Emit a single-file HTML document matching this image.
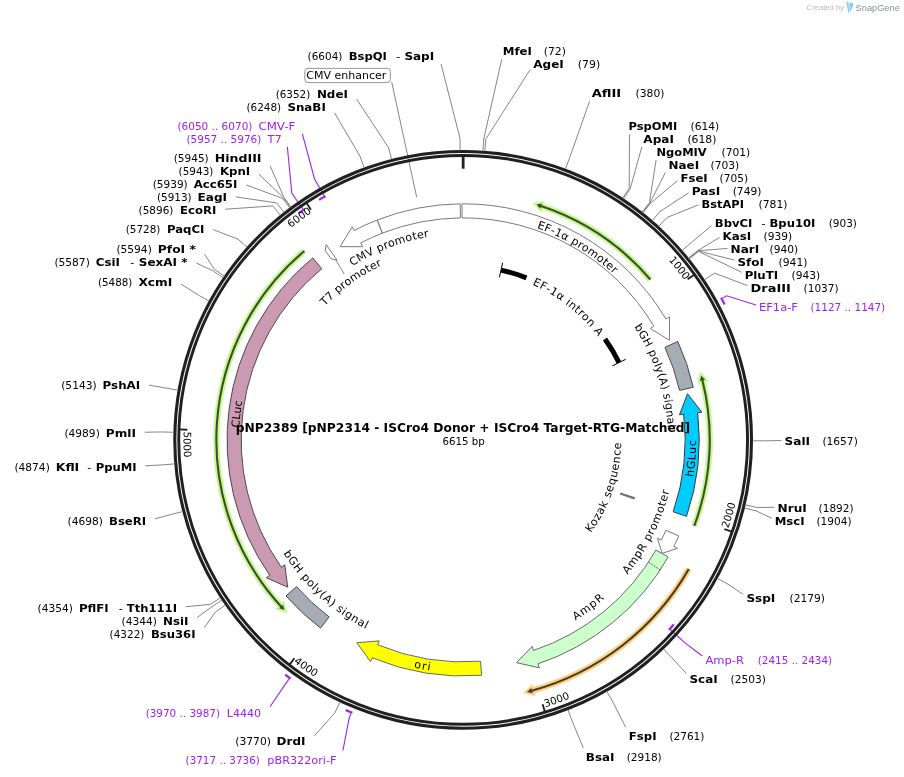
<!DOCTYPE html>
<html><head><meta charset="utf-8"><title>pNP2389 map</title><style>html,body{margin:0;padding:0;background:#fff}svg{display:block;will-change:transform}</style></head><body>
<svg width="904" height="777" viewBox="0 0 904 777">
<rect width="904" height="777" fill="#fff"/>
<defs><path id="p1" d="M422.9,169.88 A273,273 0 0 1 717.12,540.05"/><path id="p2" d="M191.84,470.19 A273,273 0 0 1 572.57,189.79"/><path id="p3" d="M531.77,710.95 A279.6,279.6 0 0 0 663.57,244.95"/><path id="p4" d="M282.62,653.41 A279.6,279.6 0 0 0 738.32,489.48"/><path id="p5" d="M184.46,417.3 A279.6,279.6 0 0 0 582.92,692.55"/><path id="p6" d="M319.39,200.09 A279.6,279.6 0 0 0 327.35,684.31"/><path id="p7" d="M259.66,407.85 A206,206 0 0 1 592.65,279.69"/><path id="p8" d="M271.52,458.18 A192.5,192.5 0 0 1 543.13,264.8"/><path id="p9" d="M353.43,244.38 A224.2,224.2 0 0 1 687.33,442.64"/><path id="p10" d="M400.29,281.95 A170,170 0 0 1 631.37,464.44"/><path id="p11" d="M504.37,239.09 A205,205 0 0 1 616.45,576"/><path id="p12" d="M562.91,650.46 A233,233 0 0 0 595.62,248.22"/><path id="p13" d="M494.52,594.76 A158,158 0 0 0 581.58,335.31"/><path id="p14" d="M475.75,652.03 A212.5,212.5 0 0 0 640.56,322.92"/><path id="p15" d="M379.44,635.22 A212.5,212.5 0 0 0 674.16,414.74"/><path id="p16" d="M243.92,518.83 A233,233 0 0 0 641.11,590.29"/><path id="p17" d="M255.69,393.91 A212.5,212.5 0 0 0 527.05,642.56"/><path id="p18" d="M329.63,620.01 A224.2,224.2 0 0 1 373.93,234.22"/></defs>
<path d="M377.26,219.98 A236.1,236.1 0 0 1 460.23,203.82 L460.41,217.92 A222,222 0 0 0 382.39,233.11 Z" fill="#fff" stroke="#7a7a7a" stroke-width="1" stroke-linejoin="miter"/>
<path d="M377.05,220.06 A236.1,236.1 0 0 0 354.18,230.45 L352.24,226.73 L340.12,246.7 L362.63,246.69 L360.69,242.96 A222,222 0 0 1 382.19,233.19 Z" fill="#fff" stroke="#7a7a7a" stroke-width="1" stroke-linejoin="miter"/>
<path d="M462.03,203.8 A236.1,236.1 0 0 1 665.98,319.06 L669.59,316.91 L669.4,340.27 L650.26,328.43 L653.87,326.28 A222,222 0 0 0 462.1,217.9 Z" fill="#fff" stroke="#7a7a7a" stroke-width="1" stroke-linejoin="miter"/>
<path d="M326.13,244.56 L325.28,250.71 L331.23,258.87 L337.1,260.2 L331.62,252.38 Z" fill="#fff" stroke="#7a7a7a" stroke-width="1" stroke-linejoin="miter"/>
<path d="M677.75,341.47 A236.1,236.1 0 0 1 693.31,387.25 L679.56,390.4 A222,222 0 0 0 664.94,347.35 Z" fill="#a6acb6" stroke="#4a4a4a" stroke-width="1" stroke-linejoin="miter"/>
<path d="M686.52,516.37 A236.1,236.1 0 0 0 697.67,412.64 L701.84,412.16 L687.5,393.72 L679.49,414.75 L683.67,414.27 A222,222 0 0 1 673.18,511.8 Z" fill="#00ccff" stroke="#3a3a3a" stroke-width="1" stroke-linejoin="miter"/>
<path d="M678.82,535.98 A236.1,236.1 0 0 1 673.81,546.51 L677.56,548.41 L662.16,553.29 L657.48,538.25 L661.23,540.15 A222,222 0 0 0 665.94,530.24 Z" fill="#fff" stroke="#7a7a7a" stroke-width="1" stroke-linejoin="miter"/>
<path d="M668.18,556.98 A236.1,236.1 0 0 1 537.96,663.84 L539.29,667.82 L516.5,662.65 L532.16,646.48 L533.49,650.46 A222,222 0 0 0 655.93,549.99 Z" fill="#ccffcc" stroke="#6a6a6a" stroke-width="1" stroke-linejoin="miter"/>
<path d="M660.19,569.97 L648.43,562.2" stroke="#333" stroke-width="1" stroke-dasharray="1.5,1.5" fill="none"/>
<path d="M481.63,675.28 A236.1,236.1 0 0 1 372.15,657.76 L370.53,661.63 L356.77,642.75 L379.2,640.87 L377.58,644.75 A222,222 0 0 0 480.53,661.22 Z" fill="#ffff00" stroke="#6a6a6a" stroke-width="1" stroke-linejoin="miter"/>
<path d="M320.59,628.1 A236.1,236.1 0 0 1 285.98,595.96 L296.56,586.64 A222,222 0 0 0 329.11,616.86 Z" fill="#a6acb6" stroke="#4a4a4a" stroke-width="1" stroke-linejoin="miter"/>
<path d="M312.77,257.89 A236.1,236.1 0 0 0 269.77,575.36 L266.33,577.77 L287.72,587.17 L284.76,564.86 L281.32,567.27 A222,222 0 0 1 321.75,268.76 Z" fill="#cc99b3" stroke="#4a4a4a" stroke-width="1" stroke-linejoin="miter"/>
<path d="M501.02,270.07 A174,174 0 0 1 526.45,277.82" fill="none" stroke="#000" stroke-width="5" />
<path d="M604.96,339.07 A174,174 0 0 1 619.03,362.59" fill="none" stroke="#000" stroke-width="5" />
<path d="M499.39,277.39 L502.65,262.75" stroke="#000" stroke-width="1" fill="none"/>
<path d="M612.31,365.92 L625.75,359.25" stroke="#000" stroke-width="1" fill="none"/>
<path d="M620.16,493.48 L634.73,498.46" stroke="#707070" stroke-width="2.3" fill="none"/>
<path d="M650.35,279.53 A246.5,246.5 0 0 0 540.29,205.78" fill="none" stroke="#c2fa8e" stroke-width="6.2"/>
<path d="M542.09,203.53 L536.48,204.56 L540.38,208.66 Z" fill="#c2fa8e" stroke="#c2fa8e" stroke-width="4" stroke-linejoin="miter"/>
<path d="M650.35,279.53 A246.5,246.5 0 0 0 540.29,205.78" fill="none" stroke="#3f4d2b" stroke-width="2.1"/>
<path d="M542.09,203.53 L536.48,204.56 L540.38,208.66 Z" fill="#3f4d2b"/>
<path d="M694.25,525.95 A246.6,246.6 0 0 0 702.23,379.46" fill="none" stroke="#c2fa8e" stroke-width="6.2"/>
<path d="M705.09,379.78 L701.22,375.59 L699.85,381.09 Z" fill="#c2fa8e" stroke="#c2fa8e" stroke-width="4" stroke-linejoin="miter"/>
<path d="M694.25,525.95 A246.6,246.6 0 0 0 702.23,379.46" fill="none" stroke="#3f4d2b" stroke-width="2.1"/>
<path d="M705.09,379.78 L701.22,375.59 L699.85,381.09 Z" fill="#3f4d2b"/>
<path d="M688.81,569.04 A260,260 0 0 1 530.94,690.91" fill="none" stroke="#fbd084" stroke-width="6.2"/>
<path d="M532.62,693.25 L527.07,691.92 L531.19,688.04 Z" fill="#fbd084" stroke="#fbd084" stroke-width="4" stroke-linejoin="miter"/>
<path d="M688.81,569.04 A260,260 0 0 1 530.94,690.91" fill="none" stroke="#4a3a1c" stroke-width="2.1"/>
<path d="M532.62,693.25 L527.07,691.92 L531.19,688.04 Z" fill="#4a3a1c"/>
<path d="M304.33,250.99 A246.8,246.8 0 0 0 281.71,607.2" fill="none" stroke="#c2fa8e" stroke-width="6.2"/>
<path d="M279.04,608.28 L284.44,610.12 L283.02,604.64 Z" fill="#c2fa8e" stroke="#c2fa8e" stroke-width="4" stroke-linejoin="miter"/>
<path d="M304.33,250.99 A246.8,246.8 0 0 0 281.71,607.2" fill="none" stroke="#3f4d2b" stroke-width="2.1"/>
<path d="M279.04,608.28 L284.44,610.12 L283.02,604.64 Z" fill="#3f4d2b"/>
<path d="M721.07,297.75 A294.5,294.5 0 0 1 724.65,304.45" fill="none" stroke="#a020f0" stroke-width="2.2"/>
<path d="M722.43,298.14 L726.64,295.84 L755.9,305.04" fill="none" stroke="#a020f0" stroke-width="1.1"/>
<text font-family="DejaVu Sans, Liberation Sans, sans-serif" font-size="11" x="759" y="310.8" fill="#a020f0" textLength="39" lengthAdjust="spacingAndGlyphs">EF1a-F</text>
<text font-family="DejaVu Sans, Liberation Sans, sans-serif" font-size="11" x="810.5" y="310.8" fill="#a020f0" textLength="74.7" lengthAdjust="spacingAndGlyphs">(1127 .. 1147)</text>
<path d="M673.75,624.42 A280,280 0 0 1 669.03,629.67" fill="none" stroke="#a020f0" stroke-width="2.2"/>
<path d="M668.97,628.26 L684.69,642.64 L702.3,656.05" fill="none" stroke="#a020f0" stroke-width="1.1"/>
<text font-family="DejaVu Sans, Liberation Sans, sans-serif" font-size="11" x="705.4" y="663.6" fill="#a020f0" textLength="38.6" lengthAdjust="spacingAndGlyphs">Amp-R</text>
<text font-family="DejaVu Sans, Liberation Sans, sans-serif" font-size="11" x="757.8" y="663.6" fill="#a020f0" textLength="74.3" lengthAdjust="spacingAndGlyphs">(2415 .. 2434)</text>
<path d="M319.14,199.77 A280,280 0 0 1 325.46,196.09" fill="none" stroke="#a020f0" stroke-width="2.2"/>
<path d="M325.09,197.46 L314.55,178.95 L302.39,133.8" fill="none" stroke="#a020f0" stroke-width="1.1"/>
<text font-family="DejaVu Sans, Liberation Sans, sans-serif" font-size="11" x="177.5" y="129.8" fill="#a020f0" textLength="74.9" lengthAdjust="spacingAndGlyphs">(6050 .. 6070)</text>
<text font-family="DejaVu Sans, Liberation Sans, sans-serif" font-size="11" x="258.4" y="129.8" fill="#a020f0" textLength="36.9" lengthAdjust="spacingAndGlyphs">CMV-F</text>
<path d="M298.51,213.42 A280,280 0 0 1 304.27,209.34" fill="none" stroke="#a020f0" stroke-width="2.2"/>
<path d="M304.02,210.73 L291.87,193.24 L287.33,146.8" fill="none" stroke="#a020f0" stroke-width="1.1"/>
<text font-family="DejaVu Sans, Liberation Sans, sans-serif" font-size="11" x="186.5" y="142.8" fill="#a020f0" textLength="74.8" lengthAdjust="spacingAndGlyphs">(5957 .. 5976)</text>
<text font-family="DejaVu Sans, Liberation Sans, sans-serif" font-size="11" x="267.5" y="142.8" fill="#a020f0" textLength="14.2" lengthAdjust="spacingAndGlyphs">T7</text>
<path d="M290.63,678.58 A294.5,294.5 0 0 1 285.2,674.56" fill="none" stroke="#a020f0" stroke-width="2.2"/>
<path d="M289.23,678.8 L286.41,682.68 L270,706.74" fill="none" stroke="#a020f0" stroke-width="1.1"/>
<text font-family="DejaVu Sans, Liberation Sans, sans-serif" font-size="11" x="145.7" y="717.1" fill="#a020f0" textLength="74.3" lengthAdjust="spacingAndGlyphs">(3970 .. 3987)</text>
<text font-family="DejaVu Sans, Liberation Sans, sans-serif" font-size="11" x="226.7" y="717.1" fill="#a020f0" textLength="34.5" lengthAdjust="spacingAndGlyphs">L4440</text>
<path d="M352.39,712.78 A294.5,294.5 0 0 1 345.65,709.94" fill="none" stroke="#a020f0" stroke-width="2.2"/>
<path d="M351.09,713.33 L349.27,717.77 L342.94,750.5" fill="none" stroke="#a020f0" stroke-width="1.1"/>
<text font-family="DejaVu Sans, Liberation Sans, sans-serif" font-size="11" x="185.6" y="763.5" fill="#a020f0" textLength="74.2" lengthAdjust="spacingAndGlyphs">(3717 .. 3736)</text>
<text font-family="DejaVu Sans, Liberation Sans, sans-serif" font-size="11" x="267.3" y="763.5" fill="#a020f0" textLength="69.2" lengthAdjust="spacingAndGlyphs">pBR322ori-F</text>
<path d="M391.7,82 L416.7,197.2" stroke="#858585" fill="none"/>
<circle cx="463.15" cy="439.9" r="288.35" fill="none" stroke="#202020" stroke-width="3.1"/>
<circle cx="463.15" cy="439.9" r="284.4" fill="none" stroke="#202020" stroke-width="2.9"/>
<path d="M463.15,155.9 L463.15,168.7" stroke="#202020" stroke-width="2.8"/>
<path d="M694.13,274.66 L687.63,279.32" stroke="#202020" stroke-width="1.8"/>
<path d="M731.93,531.63 L724.36,529.04" stroke="#202020" stroke-width="1.8"/>
<path d="M544.93,711.87 L542.62,704.21" stroke="#202020" stroke-width="1.8"/>
<path d="M289.53,664.65 L294.42,658.32" stroke="#202020" stroke-width="1.8"/>
<path d="M179.34,429.45 L187.34,429.74" stroke="#202020" stroke-width="1.8"/>
<path d="M306.53,202.99 L310.94,209.67" stroke="#202020" stroke-width="1.8"/>
<text font-family="DejaVu Sans, Liberation Sans, sans-serif" font-size="10.3" fill="#000" text-anchor="middle"><textPath href="#p1" startOffset="50%">1000</textPath></text>
<text font-family="DejaVu Sans, Liberation Sans, sans-serif" font-size="10.3" fill="#000" text-anchor="middle"><textPath href="#p2" startOffset="50%">6000</textPath></text>
<text font-family="DejaVu Sans, Liberation Sans, sans-serif" font-size="10.3" fill="#000" text-anchor="middle"><textPath href="#p3" startOffset="50%">2000</textPath></text>
<text font-family="DejaVu Sans, Liberation Sans, sans-serif" font-size="10.3" fill="#000" text-anchor="middle"><textPath href="#p4" startOffset="50%">3000</textPath></text>
<text font-family="DejaVu Sans, Liberation Sans, sans-serif" font-size="10.3" fill="#000" text-anchor="middle"><textPath href="#p5" startOffset="50%">4000</textPath></text>
<text font-family="DejaVu Sans, Liberation Sans, sans-serif" font-size="10.3" fill="#000" text-anchor="middle"><textPath href="#p6" startOffset="50%">5000</textPath></text>
<text font-family="DejaVu Sans, Liberation Sans, sans-serif" font-size="11" fill="#000" text-anchor="middle"><textPath href="#p7" startOffset="50%" textLength="82.82">CMV promoter</textPath></text>
<text font-family="DejaVu Sans, Liberation Sans, sans-serif" font-size="11" fill="#000" text-anchor="middle"><textPath href="#p8" startOffset="50%" textLength="70.75">T7 promoter</textPath></text>
<text font-family="DejaVu Sans, Liberation Sans, sans-serif" font-size="11" fill="#000" text-anchor="middle"><textPath href="#p9" startOffset="50%" textLength="90.42">EF-1α promoter</textPath></text>
<text font-family="DejaVu Sans, Liberation Sans, sans-serif" font-size="11" fill="#000" text-anchor="middle"><textPath href="#p10" startOffset="50%" textLength="85.02">EF-1α intron A</textPath></text>
<text font-family="DejaVu Sans, Liberation Sans, sans-serif" font-size="11" fill="#000" text-anchor="middle"><textPath href="#p11" startOffset="50%" textLength="107.64">bGH poly(A) signal</textPath></text>
<text font-family="DejaVu Sans, Liberation Sans, sans-serif" font-size="11" fill="#000" text-anchor="middle"><textPath href="#p12" startOffset="50%" textLength="36.99">hGLuc</textPath></text>
<text font-family="DejaVu Sans, Liberation Sans, sans-serif" font-size="11" fill="#000" text-anchor="middle"><textPath href="#p13" startOffset="50%" textLength="96.89">Kozak sequence</textPath></text>
<text font-family="DejaVu Sans, Liberation Sans, sans-serif" font-size="11" fill="#000" text-anchor="middle"><textPath href="#p14" startOffset="50%" textLength="94.66">AmpR promoter</textPath></text>
<text font-family="DejaVu Sans, Liberation Sans, sans-serif" font-size="11" fill="#000" text-anchor="middle"><textPath href="#p15" startOffset="50%" textLength="36.69">AmpR</textPath></text>
<text font-family="DejaVu Sans, Liberation Sans, sans-serif" font-size="11" fill="#000" text-anchor="middle"><textPath href="#p16" startOffset="50%" textLength="16.65">ori</textPath></text>
<text font-family="DejaVu Sans, Liberation Sans, sans-serif" font-size="11" fill="#000" text-anchor="middle"><textPath href="#p17" startOffset="50%" textLength="113.21">bGH poly(A) signal</textPath></text>
<text font-family="DejaVu Sans, Liberation Sans, sans-serif" font-size="11" fill="#000" text-anchor="middle"><textPath href="#p18" startOffset="50%" textLength="27.14">CLuc</textPath></text>
<text font-family="DejaVu Sans, Liberation Sans, sans-serif" font-size="12.4" font-weight="bold" x="235.8" y="431.6" textLength="454.4" lengthAdjust="spacingAndGlyphs">pNP2389 [pNP2314 - ISCro4 Donor + ISCro4 Target-RTG-Matched]</text>
<text font-family="DejaVu Sans, Liberation Sans, sans-serif" font-size="11" x="442.5" y="444.7" textLength="42.3" lengthAdjust="spacingAndGlyphs">6615 bp</text>
<path d="M482.93,151.08 L483.76,139.01 L501.78,59.1" fill="none" stroke="#858585" stroke-width="1"/>
<text font-family="DejaVu Sans, Liberation Sans, sans-serif" font-size="11" x="502.8" y="55.1" fill="#000" font-weight="bold" textLength="29.1" lengthAdjust="spacingAndGlyphs">MfeI</text>
<text font-family="DejaVu Sans, Liberation Sans, sans-serif" font-size="11" x="543.7" y="55.1" fill="#000" textLength="22.2" lengthAdjust="spacingAndGlyphs">(72)</text>
<path d="M484.85,151.21 L485.76,139.15 L530.1,69.76" fill="none" stroke="#858585" stroke-width="1"/>
<text font-family="DejaVu Sans, Liberation Sans, sans-serif" font-size="11" x="533.2" y="68" fill="#000" font-weight="bold" textLength="30.6" lengthAdjust="spacingAndGlyphs">AgeI</text>
<text font-family="DejaVu Sans, Liberation Sans, sans-serif" font-size="11" x="577.8" y="68" fill="#000" textLength="22.4" lengthAdjust="spacingAndGlyphs">(79)</text>
<path d="M565.39,169.05 L569.66,157.73 L589.6,101.2" fill="none" stroke="#858585" stroke-width="1"/>
<text font-family="DejaVu Sans, Liberation Sans, sans-serif" font-size="11" x="591.7" y="97.2" fill="#000" font-weight="bold" textLength="29.5" lengthAdjust="spacingAndGlyphs">AflII</text>
<text font-family="DejaVu Sans, Liberation Sans, sans-serif" font-size="11" x="635.6" y="97.2" fill="#000" textLength="28.9" lengthAdjust="spacingAndGlyphs">(380)</text>
<path d="M622.58,198.25 L629.24,188.15 L629.46,134.3" fill="none" stroke="#858585" stroke-width="1"/>
<text font-family="DejaVu Sans, Liberation Sans, sans-serif" font-size="11" x="628.6" y="130.3" fill="#000" font-weight="bold" textLength="48.6" lengthAdjust="spacingAndGlyphs">PspOMI</text>
<text font-family="DejaVu Sans, Liberation Sans, sans-serif" font-size="11" x="690.6" y="130.3" fill="#000" textLength="28.7" lengthAdjust="spacingAndGlyphs">(614)</text>
<path d="M623.49,198.86 L630.2,188.79 L641.84,146.9" fill="none" stroke="#858585" stroke-width="1"/>
<text font-family="DejaVu Sans, Liberation Sans, sans-serif" font-size="11" x="643.3" y="142.9" fill="#000" font-weight="bold" textLength="30.6" lengthAdjust="spacingAndGlyphs">ApaI</text>
<text font-family="DejaVu Sans, Liberation Sans, sans-serif" font-size="11" x="687.4" y="142.9" fill="#000" textLength="29.1" lengthAdjust="spacingAndGlyphs">(618)</text>
<path d="M641.98,212.24 L649.45,202.72 L656.08,159.9" fill="none" stroke="#858585" stroke-width="1"/>
<text font-family="DejaVu Sans, Liberation Sans, sans-serif" font-size="11" x="656.5" y="155.9" fill="#000" font-weight="bold" textLength="50.2" lengthAdjust="spacingAndGlyphs">NgoMIV</text>
<text font-family="DejaVu Sans, Liberation Sans, sans-serif" font-size="11" x="721.5" y="155.9" fill="#000" textLength="28.7" lengthAdjust="spacingAndGlyphs">(701)</text>
<path d="M642.41,212.58 L649.9,203.08 L665.4,172.41" fill="none" stroke="#858585" stroke-width="1"/>
<text font-family="DejaVu Sans, Liberation Sans, sans-serif" font-size="11" x="668.5" y="169" fill="#000" font-weight="bold" textLength="30.6" lengthAdjust="spacingAndGlyphs">NaeI</text>
<text font-family="DejaVu Sans, Liberation Sans, sans-serif" font-size="11" x="710.5" y="169" fill="#000" textLength="28.7" lengthAdjust="spacingAndGlyphs">(703)</text>
<path d="M642.84,212.92 L650.35,203.43 L677.4,180.67" fill="none" stroke="#858585" stroke-width="1"/>
<text font-family="DejaVu Sans, Liberation Sans, sans-serif" font-size="11" x="680.5" y="181.8" fill="#000" font-weight="bold" textLength="27.2" lengthAdjust="spacingAndGlyphs">FseI</text>
<text font-family="DejaVu Sans, Liberation Sans, sans-serif" font-size="11" x="719.6" y="181.8" fill="#000" textLength="28.5" lengthAdjust="spacingAndGlyphs">(705)</text>
<path d="M652.17,220.62 L660.07,211.46 L688.6,192.81" fill="none" stroke="#858585" stroke-width="1"/>
<text font-family="DejaVu Sans, Liberation Sans, sans-serif" font-size="11" x="691.7" y="194.7" fill="#000" font-weight="bold" textLength="28.5" lengthAdjust="spacingAndGlyphs">PasI</text>
<text font-family="DejaVu Sans, Liberation Sans, sans-serif" font-size="11" x="732.7" y="194.7" fill="#000" textLength="28.7" lengthAdjust="spacingAndGlyphs">(749)</text>
<path d="M658.75,226.47 L666.92,217.55 L698.5,204.81" fill="none" stroke="#858585" stroke-width="1"/>
<text font-family="DejaVu Sans, Liberation Sans, sans-serif" font-size="11" x="701.6" y="207.7" fill="#000" font-weight="bold" textLength="42.3" lengthAdjust="spacingAndGlyphs">BstAPI</text>
<text font-family="DejaVu Sans, Liberation Sans, sans-serif" font-size="11" x="758.5" y="207.7" fill="#000" textLength="29" lengthAdjust="spacingAndGlyphs">(781)</text>
<path d="M682.11,250.52 L691.26,242.6 L711.7,225.54" fill="none" stroke="#858585" stroke-width="1"/>
<text font-family="DejaVu Sans, Liberation Sans, sans-serif" font-size="11" x="714.8" y="226.7" fill="#000" font-weight="bold" textLength="37.6" lengthAdjust="spacingAndGlyphs">BbvCI</text>
<text font-family="DejaVu Sans, Liberation Sans, sans-serif" font-size="11" x="761.4" y="226.7" fill="#000">-</text>
<text font-family="DejaVu Sans, Liberation Sans, sans-serif" font-size="11" x="769.5" y="226.7" fill="#000" font-weight="bold" textLength="45.9" lengthAdjust="spacingAndGlyphs">Bpu10I</text>
<text font-family="DejaVu Sans, Liberation Sans, sans-serif" font-size="11" x="828.7" y="226.7" fill="#000" textLength="28.3" lengthAdjust="spacingAndGlyphs">(903)</text>
<path d="M688.46,258.11 L697.87,250.51 L719.5,237.51" fill="none" stroke="#858585" stroke-width="1"/>
<text font-family="DejaVu Sans, Liberation Sans, sans-serif" font-size="11" x="722.6" y="239.6" fill="#000" font-weight="bold" textLength="28.7" lengthAdjust="spacingAndGlyphs">KasI</text>
<text font-family="DejaVu Sans, Liberation Sans, sans-serif" font-size="11" x="763.6" y="239.6" fill="#000" textLength="28.7" lengthAdjust="spacingAndGlyphs">(939)</text>
<path d="M688.63,258.33 L698.05,250.74 L727.5,248.42" fill="none" stroke="#858585" stroke-width="1"/>
<text font-family="DejaVu Sans, Liberation Sans, sans-serif" font-size="11" x="730.6" y="252.6" fill="#000" font-weight="bold" textLength="28.7" lengthAdjust="spacingAndGlyphs">NarI</text>
<text font-family="DejaVu Sans, Liberation Sans, sans-serif" font-size="11" x="769.5" y="252.6" fill="#000" textLength="28.7" lengthAdjust="spacingAndGlyphs">(940)</text>
<path d="M688.8,258.54 L698.23,250.96 L734.3,260.09" fill="none" stroke="#858585" stroke-width="1"/>
<text font-family="DejaVu Sans, Liberation Sans, sans-serif" font-size="11" x="737.4" y="265.6" fill="#000" font-weight="bold" textLength="26.5" lengthAdjust="spacingAndGlyphs">SfoI</text>
<text font-family="DejaVu Sans, Liberation Sans, sans-serif" font-size="11" x="778.5" y="265.6" fill="#000" textLength="29" lengthAdjust="spacingAndGlyphs">(941)</text>
<path d="M689.15,258.97 L698.59,251.41 L741.6,272.26" fill="none" stroke="#858585" stroke-width="1"/>
<text font-family="DejaVu Sans, Liberation Sans, sans-serif" font-size="11" x="744.7" y="278.7" fill="#000" font-weight="bold" textLength="33.5" lengthAdjust="spacingAndGlyphs">PluTI</text>
<text font-family="DejaVu Sans, Liberation Sans, sans-serif" font-size="11" x="791.6" y="278.7" fill="#000" textLength="28.7" lengthAdjust="spacingAndGlyphs">(943)</text>
<path d="M704.38,279.84 L714.46,273.15 L747.5,285.59" fill="none" stroke="#858585" stroke-width="1"/>
<text font-family="DejaVu Sans, Liberation Sans, sans-serif" font-size="11" x="750.6" y="291.6" fill="#000" font-weight="bold" textLength="40.3" lengthAdjust="spacingAndGlyphs">DraIII</text>
<text font-family="DejaVu Sans, Liberation Sans, sans-serif" font-size="11" x="803.6" y="291.6" fill="#000" textLength="35" lengthAdjust="spacingAndGlyphs">(1037)</text>
<path d="M752.65,440.79 L764.75,440.83 L781.5,440.56" fill="none" stroke="#858585" stroke-width="1"/>
<text font-family="DejaVu Sans, Liberation Sans, sans-serif" font-size="11" x="784.6" y="445" fill="#000" font-weight="bold" textLength="25.5" lengthAdjust="spacingAndGlyphs">SalI</text>
<text font-family="DejaVu Sans, Liberation Sans, sans-serif" font-size="11" x="822.4" y="445" fill="#000" textLength="35.4" lengthAdjust="spacingAndGlyphs">(1657)</text>
<path d="M745.27,504.86 L757.06,507.57 L774.5,507.27" fill="none" stroke="#858585" stroke-width="1"/>
<text font-family="DejaVu Sans, Liberation Sans, sans-serif" font-size="11" x="777.6" y="511.7" fill="#000" font-weight="bold" textLength="29.3" lengthAdjust="spacingAndGlyphs">NruI</text>
<text font-family="DejaVu Sans, Liberation Sans, sans-serif" font-size="11" x="818.6" y="511.7" fill="#000" textLength="35" lengthAdjust="spacingAndGlyphs">(1892)</text>
<path d="M744.51,508.07 L756.27,510.92 L771.6,518.12" fill="none" stroke="#858585" stroke-width="1"/>
<text font-family="DejaVu Sans, Liberation Sans, sans-serif" font-size="11" x="774.7" y="524.5" fill="#000" font-weight="bold" textLength="29.9" lengthAdjust="spacingAndGlyphs">MscI</text>
<text font-family="DejaVu Sans, Liberation Sans, sans-serif" font-size="11" x="816.5" y="524.5" fill="#000" textLength="35" lengthAdjust="spacingAndGlyphs">(1904)</text>
<path d="M717.36,578.41 L727.99,584.2 L743.3,594.51" fill="none" stroke="#858585" stroke-width="1"/>
<text font-family="DejaVu Sans, Liberation Sans, sans-serif" font-size="11" x="746.4" y="601.7" fill="#000" font-weight="bold" textLength="28.9" lengthAdjust="spacingAndGlyphs">SspI</text>
<text font-family="DejaVu Sans, Liberation Sans, sans-serif" font-size="11" x="789.5" y="601.7" fill="#000" textLength="35.4" lengthAdjust="spacingAndGlyphs">(2179)</text>
<path d="M663.46,648.91 L671.83,657.65 L686.4,673.62" fill="none" stroke="#858585" stroke-width="1"/>
<text font-family="DejaVu Sans, Liberation Sans, sans-serif" font-size="11" x="689.5" y="682.5" fill="#000" font-weight="bold" textLength="28.2" lengthAdjust="spacingAndGlyphs">ScaI</text>
<text font-family="DejaVu Sans, Liberation Sans, sans-serif" font-size="11" x="730.6" y="682.5" fill="#000" textLength="35.3" lengthAdjust="spacingAndGlyphs">(2503)</text>
<path d="M606.77,691.26 L612.77,701.77 L625.7,727.38" fill="none" stroke="#858585" stroke-width="1"/>
<text font-family="DejaVu Sans, Liberation Sans, sans-serif" font-size="11" x="628.8" y="739.8" fill="#000" font-weight="bold" textLength="27.7" lengthAdjust="spacingAndGlyphs">FspI</text>
<text font-family="DejaVu Sans, Liberation Sans, sans-serif" font-size="11" x="669.4" y="739.8" fill="#000" textLength="35" lengthAdjust="spacingAndGlyphs">(2761)</text>
<path d="M567.83,709.81 L572.2,721.09 L583.2,747.8" fill="none" stroke="#858585" stroke-width="1"/>
<text font-family="DejaVu Sans, Liberation Sans, sans-serif" font-size="11" x="585.8" y="760.8" fill="#000" font-weight="bold" textLength="28.7" lengthAdjust="spacingAndGlyphs">BsaI</text>
<text font-family="DejaVu Sans, Liberation Sans, sans-serif" font-size="11" x="626.7" y="760.8" fill="#000" textLength="35" lengthAdjust="spacingAndGlyphs">(2918)</text>
<path d="M460.13,150.42 L460,138.32 L441.07,64" fill="none" stroke="#858585" stroke-width="1"/>
<text font-family="DejaVu Sans, Liberation Sans, sans-serif" font-size="11" x="307.6" y="60" fill="#000" textLength="34.8" lengthAdjust="spacingAndGlyphs">(6604)</text>
<text font-family="DejaVu Sans, Liberation Sans, sans-serif" font-size="11" x="348.7" y="60" fill="#000" font-weight="bold" textLength="38.2" lengthAdjust="spacingAndGlyphs">BspQI</text>
<text font-family="DejaVu Sans, Liberation Sans, sans-serif" font-size="11" x="396.2" y="60" fill="#000">-</text>
<text font-family="DejaVu Sans, Liberation Sans, sans-serif" font-size="11" x="404.4" y="60" fill="#000" font-weight="bold" textLength="29.7" lengthAdjust="spacingAndGlyphs">SapI</text>
<path d="M391.58,159.39 L388.59,147.66 L356.7,99.18" fill="none" stroke="#858585" stroke-width="1"/>
<text font-family="DejaVu Sans, Liberation Sans, sans-serif" font-size="11" x="275.7" y="97.6" fill="#000" textLength="34.5" lengthAdjust="spacingAndGlyphs">(6352)</text>
<text font-family="DejaVu Sans, Liberation Sans, sans-serif" font-size="11" x="316.9" y="97.6" fill="#000" font-weight="bold" textLength="31" lengthAdjust="spacingAndGlyphs">NdeI</text>
<path d="M364.26,167.81 L360.13,156.44 L334.6,112.92" fill="none" stroke="#858585" stroke-width="1"/>
<text font-family="DejaVu Sans, Liberation Sans, sans-serif" font-size="11" x="246.4" y="110.6" fill="#000" textLength="34.8" lengthAdjust="spacingAndGlyphs">(6248)</text>
<text font-family="DejaVu Sans, Liberation Sans, sans-serif" font-size="11" x="287.4" y="110.6" fill="#000" font-weight="bold" textLength="38.4" lengthAdjust="spacingAndGlyphs">SnaBI</text>
<path d="M291.1,207.07 L283.91,197.34 L270.03,165.7" fill="none" stroke="#858585" stroke-width="1"/>
<text font-family="DejaVu Sans, Liberation Sans, sans-serif" font-size="11" x="173.7" y="161.7" fill="#000" textLength="35" lengthAdjust="spacingAndGlyphs">(5945)</text>
<text font-family="DejaVu Sans, Liberation Sans, sans-serif" font-size="11" x="214.7" y="161.7" fill="#000" font-weight="bold" textLength="46.8" lengthAdjust="spacingAndGlyphs">HindIII</text>
<path d="M290.66,207.4 L283.45,197.68 L259,174.32" fill="none" stroke="#858585" stroke-width="1"/>
<text font-family="DejaVu Sans, Liberation Sans, sans-serif" font-size="11" x="178.6" y="175" fill="#000" textLength="34.8" lengthAdjust="spacingAndGlyphs">(5943)</text>
<text font-family="DejaVu Sans, Liberation Sans, sans-serif" font-size="11" x="220" y="175" fill="#000" font-weight="bold" textLength="30.2" lengthAdjust="spacingAndGlyphs">KpnI</text>
<path d="M289.78,208.06 L282.53,198.37 L246.2,184.97" fill="none" stroke="#858585" stroke-width="1"/>
<text font-family="DejaVu Sans, Liberation Sans, sans-serif" font-size="11" x="152.7" y="188" fill="#000" textLength="35" lengthAdjust="spacingAndGlyphs">(5939)</text>
<text font-family="DejaVu Sans, Liberation Sans, sans-serif" font-size="11" x="193.7" y="188" fill="#000" font-weight="bold" textLength="43.7" lengthAdjust="spacingAndGlyphs">Acc65I</text>
<path d="M284.1,212.41 L276.62,202.9 L235.8,196.89" fill="none" stroke="#858585" stroke-width="1"/>
<text font-family="DejaVu Sans, Liberation Sans, sans-serif" font-size="11" x="156.9" y="200.8" fill="#000" textLength="34.8" lengthAdjust="spacingAndGlyphs">(5913)</text>
<text font-family="DejaVu Sans, Liberation Sans, sans-serif" font-size="11" x="197.5" y="200.8" fill="#000" font-weight="bold" textLength="29.5" lengthAdjust="spacingAndGlyphs">EagI</text>
<path d="M280.45,215.33 L272.82,205.94 L225.1,209.22" fill="none" stroke="#858585" stroke-width="1"/>
<text font-family="DejaVu Sans, Liberation Sans, sans-serif" font-size="11" x="138.6" y="214" fill="#000" textLength="34.8" lengthAdjust="spacingAndGlyphs">(5896)</text>
<text font-family="DejaVu Sans, Liberation Sans, sans-serif" font-size="11" x="180.1" y="214" fill="#000" font-weight="bold" textLength="36.2" lengthAdjust="spacingAndGlyphs">EcoRI</text>
<path d="M247.09,247.21 L238.06,239.16 L213.2,229.63" fill="none" stroke="#858585" stroke-width="1"/>
<text font-family="DejaVu Sans, Liberation Sans, sans-serif" font-size="11" x="125.8" y="232.6" fill="#000" textLength="34.6" lengthAdjust="spacingAndGlyphs">(5728)</text>
<text font-family="DejaVu Sans, Liberation Sans, sans-serif" font-size="11" x="167" y="232.6" fill="#000" font-weight="bold" textLength="37.4" lengthAdjust="spacingAndGlyphs">PaqCI</text>
<path d="M224.38,276.19 L214.4,269.35 L204.7,254.52" fill="none" stroke="#858585" stroke-width="1"/>
<text font-family="DejaVu Sans, Liberation Sans, sans-serif" font-size="11" x="116.4" y="252.9" fill="#000" textLength="35.4" lengthAdjust="spacingAndGlyphs">(5594)</text>
<text font-family="DejaVu Sans, Liberation Sans, sans-serif" font-size="11" x="157.8" y="252.9" fill="#000" font-weight="bold" textLength="38.1" lengthAdjust="spacingAndGlyphs">PfoI *</text>
<path d="M223.3,277.79 L213.27,271.01 L196.3,262.99" fill="none" stroke="#858585" stroke-width="1"/>
<text font-family="DejaVu Sans, Liberation Sans, sans-serif" font-size="11" x="54.4" y="265.6" fill="#000" textLength="35.4" lengthAdjust="spacingAndGlyphs">(5587)</text>
<text font-family="DejaVu Sans, Liberation Sans, sans-serif" font-size="11" x="95.8" y="265.6" fill="#000" font-weight="bold" textLength="24" lengthAdjust="spacingAndGlyphs">CsiI</text>
<text font-family="DejaVu Sans, Liberation Sans, sans-serif" font-size="11" x="130.3" y="265.6" fill="#000">-</text>
<text font-family="DejaVu Sans, Liberation Sans, sans-serif" font-size="11" x="138.8" y="265.6" fill="#000" font-weight="bold" textLength="48.7" lengthAdjust="spacingAndGlyphs">SexAI *</text>
<path d="M209.14,301.02 L198.52,295.22 L181,283.97" fill="none" stroke="#858585" stroke-width="1"/>
<text font-family="DejaVu Sans, Liberation Sans, sans-serif" font-size="11" x="97.9" y="285.9" fill="#000" textLength="34.5" lengthAdjust="spacingAndGlyphs">(5488)</text>
<text font-family="DejaVu Sans, Liberation Sans, sans-serif" font-size="11" x="138.4" y="285.9" fill="#000" font-weight="bold" textLength="33.8" lengthAdjust="spacingAndGlyphs">XcmI</text>
<path d="M177.95,390.17 L166.03,388.09 L149,385.1" fill="none" stroke="#858585" stroke-width="1"/>
<text font-family="DejaVu Sans, Liberation Sans, sans-serif" font-size="11" x="61.2" y="388.9" fill="#000" textLength="35.5" lengthAdjust="spacingAndGlyphs">(5143)</text>
<text font-family="DejaVu Sans, Liberation Sans, sans-serif" font-size="11" x="102.6" y="388.9" fill="#000" font-weight="bold" textLength="37.6" lengthAdjust="spacingAndGlyphs">PshAI</text>
<path d="M173.75,432.27 L161.65,431.95 L144.8,432.23" fill="none" stroke="#858585" stroke-width="1"/>
<text font-family="DejaVu Sans, Liberation Sans, sans-serif" font-size="11" x="64.4" y="436.8" fill="#000" textLength="35.4" lengthAdjust="spacingAndGlyphs">(4989)</text>
<text font-family="DejaVu Sans, Liberation Sans, sans-serif" font-size="11" x="105.8" y="436.8" fill="#000" font-weight="bold" textLength="30.2" lengthAdjust="spacingAndGlyphs">PmlI</text>
<path d="M174.64,463.86 L162.59,464.87 L145.4,465.79" fill="none" stroke="#858585" stroke-width="1"/>
<text font-family="DejaVu Sans, Liberation Sans, sans-serif" font-size="11" x="14.4" y="470.5" fill="#000" textLength="35.4" lengthAdjust="spacingAndGlyphs">(4874)</text>
<text font-family="DejaVu Sans, Liberation Sans, sans-serif" font-size="11" x="55.8" y="470.5" fill="#000" font-weight="bold" textLength="23.4" lengthAdjust="spacingAndGlyphs">KflI</text>
<text font-family="DejaVu Sans, Liberation Sans, sans-serif" font-size="11" x="87.2" y="470.5" fill="#000">-</text>
<text font-family="DejaVu Sans, Liberation Sans, sans-serif" font-size="11" x="95.7" y="470.5" fill="#000" font-weight="bold" textLength="40.9" lengthAdjust="spacingAndGlyphs">PpuMI</text>
<path d="M182.65,511.54 L170.93,514.53 L154.9,518.91" fill="none" stroke="#858585" stroke-width="1"/>
<text font-family="DejaVu Sans, Liberation Sans, sans-serif" font-size="11" x="67.6" y="524.5" fill="#000" textLength="35.4" lengthAdjust="spacingAndGlyphs">(4698)</text>
<text font-family="DejaVu Sans, Liberation Sans, sans-serif" font-size="11" x="109" y="524.5" fill="#000" font-weight="bold" textLength="37.1" lengthAdjust="spacingAndGlyphs">BseRI</text>
<path d="M220.49,597.77 L210.34,604.37 L185.8,606.72" fill="none" stroke="#858585" stroke-width="1"/>
<text font-family="DejaVu Sans, Liberation Sans, sans-serif" font-size="11" x="37.5" y="611.6" fill="#000" textLength="35.4" lengthAdjust="spacingAndGlyphs">(4354)</text>
<text font-family="DejaVu Sans, Liberation Sans, sans-serif" font-size="11" x="78.9" y="611.6" fill="#000" font-weight="bold" textLength="29.8" lengthAdjust="spacingAndGlyphs">PflFI</text>
<text font-family="DejaVu Sans, Liberation Sans, sans-serif" font-size="11" x="118.7" y="611.6" fill="#000">-</text>
<text font-family="DejaVu Sans, Liberation Sans, sans-serif" font-size="11" x="126.8" y="611.6" fill="#000" font-weight="bold" textLength="50.2" lengthAdjust="spacingAndGlyphs">Tth111I</text>
<path d="M222,600.07 L211.92,606.77 L197.3,617.39" fill="none" stroke="#858585" stroke-width="1"/>
<text font-family="DejaVu Sans, Liberation Sans, sans-serif" font-size="11" x="121.6" y="624.8" fill="#000" textLength="35.4" lengthAdjust="spacingAndGlyphs">(4344)</text>
<text font-family="DejaVu Sans, Liberation Sans, sans-serif" font-size="11" x="163" y="624.8" fill="#000" font-weight="bold" textLength="25.5" lengthAdjust="spacingAndGlyphs">NsiI</text>
<path d="M225.4,605.08 L215.46,611.98 L204.3,627.67" fill="none" stroke="#858585" stroke-width="1"/>
<text font-family="DejaVu Sans, Liberation Sans, sans-serif" font-size="11" x="109.6" y="637.8" fill="#000" textLength="34.8" lengthAdjust="spacingAndGlyphs">(4322)</text>
<text font-family="DejaVu Sans, Liberation Sans, sans-serif" font-size="11" x="151" y="637.8" fill="#000" font-weight="bold" textLength="44.5" lengthAdjust="spacingAndGlyphs">Bsu36I</text>
<path d="M340.02,701.91 L334.88,712.86 L314.3,735.92" fill="none" stroke="#858585" stroke-width="1"/>
<text font-family="DejaVu Sans, Liberation Sans, sans-serif" font-size="11" x="235.2" y="744.9" fill="#000" textLength="35.8" lengthAdjust="spacingAndGlyphs">(3770)</text>
<text font-family="DejaVu Sans, Liberation Sans, sans-serif" font-size="11" x="276.6" y="744.9" fill="#000" font-weight="bold" textLength="28.9" lengthAdjust="spacingAndGlyphs">DrdI</text>
<rect x="304.8" y="68.4" width="85.6" height="14.2" rx="3.2" fill="#fff" stroke="#8a8a8a" stroke-width="0.9"/>
<text font-family="DejaVu Sans, Liberation Sans, sans-serif" font-size="11" x="306.2" y="78.9" textLength="80.2" lengthAdjust="spacingAndGlyphs">CMV enhancer</text>
<path d="M335.9,260 L344.2,274" stroke="#858585" fill="none"/>
<text font-family="Liberation Sans, sans-serif" font-size="7.6" fill="#b9b9b9" x="806.6" y="10.3" textLength="37.5" lengthAdjust="spacingAndGlyphs">Created by</text>
<path d="M846.4,1.6 L848.5,1.9 L849.3,12.5 L848.2,12.8 Z M849.3,2.7 L852.2,2.7 Q853.5,3.2 853.2,5.2 L850.3,11.8 L849.8,11.8 Z" fill="#86c8f2"/>
<text font-family="Liberation Sans, sans-serif" font-size="9.2" fill="#8a9099" x="855.6" y="10.7" textLength="44.2" lengthAdjust="spacingAndGlyphs">SnapGene</text>
</svg>
</body></html>
